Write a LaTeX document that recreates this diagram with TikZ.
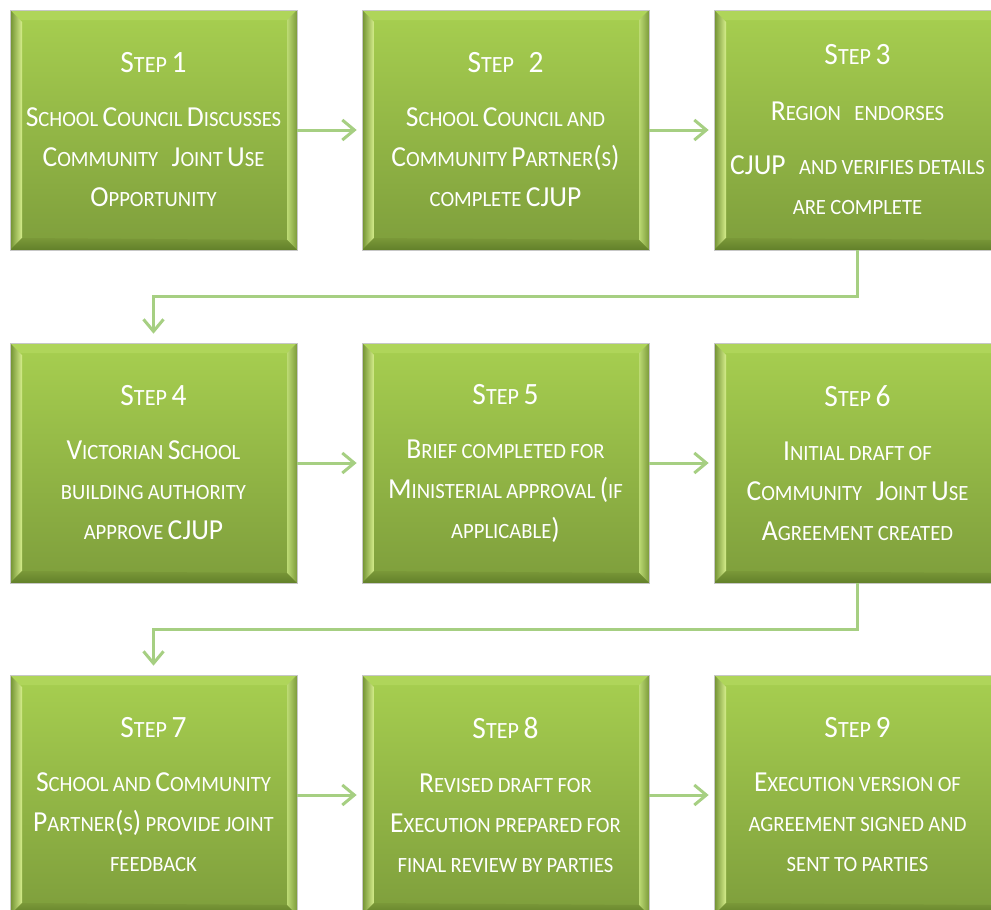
\documentclass[tikz,border=0pt]{standalone}
\usepackage{fontspec}
\setmainfont{Carlito}[FakeStretch=0.95]
\usetikzlibrary{arrows.meta,calc}
\definecolor{boxtop}{HTML}{A7CF50}
\definecolor{boxbot}{HTML}{7E9E3C}
\definecolor{bevtop}{HTML}{AFD55A}
\definecolor{bevlo}{HTML}{6F8F30}
\definecolor{bevli}{HTML}{D6EE8C}
\definecolor{bevri}{HTML}{BCDA74}
\definecolor{bevro}{HTML}{7C9B3A}
\definecolor{bevbt}{HTML}{7A9838}
\definecolor{bevbb}{HTML}{62802A}
\definecolor{connc}{HTML}{A6CF82}
\ExplSyntaxOn
\cs_new_protected:Npn \fsc_word:n #1
 {
  \tl_map_inline:nn {#1}
   {
    \int_compare:nNnTF {`##1} > {96}
     { \group_begin: \fontsize{\fp_eval:n{0.75*\use:c{f@size}}}{40}\selectfont \text_uppercase:n {##1} \group_end: }
     { ##1 }
   }
 }
\NewDocumentCommand \FSC { m }
 {
  \seq_set_split:Nnn \l_tmpa_seq { ~ } {#1}
  \bool_set_true:N \l_tmpa_bool
  \seq_map_inline:Nn \l_tmpa_seq
   {
    \bool_if:NF \l_tmpa_bool { \hspace{0.15em} }
    \bool_set_false:N \l_tmpa_bool
    \fsc_word:n {##1}
   }
 }
\ExplSyntaxOff
\newcommand\ttl[1]{{\fontsize{31}{40}\selectfont\FSC{#1}}}
\tikzset{
  stepbox/.style={rectangle, minimum width=287pt, minimum height=240pt, inner sep=0pt,
    text width=285pt, align=center, text=white, top color=boxtop, bottom color=boxbot,
    draw=black!22, line width=0.7pt, font=\fontsize{29}{40}\selectfont,
    path picture={
      \coordinate (pnw) at (path picture bounding box.north west);
      \coordinate (pne) at (path picture bounding box.north east);
      \coordinate (psw) at (path picture bounding box.south west);
      \coordinate (pse) at (path picture bounding box.south east);
      \fill[bevtop] (pnw) -- (pne) -- ($(pne)+(-10pt,-10pt)$) -- ($(pnw)+(10pt,-10pt)$) -- cycle;
      \shade[left color=bevlo, right color=bevli] (pnw) -- ($(pnw)+(12pt,-12pt)$) -- ($(psw)+(12pt,12pt)$) -- (psw) -- cycle;
      \shade[left color=bevri, right color=bevro] (pne) -- (pse) -- ($(pse)+(-10pt,10pt)$) -- ($(pne)+(-10pt,-10pt)$) -- cycle;
      \shade[top color=bevbt, bottom color=bevbb] (psw) -- (pse) -- ($(pse)+(-10pt,10pt)$) -- ($(psw)+(12pt,12pt)$) -- cycle;
    }},
  conn/.style={draw=connc, line width=3pt, -{Straight Barb[length=12pt,width=20pt]}},
}
\begin{document}
\begin{tikzpicture}[x=1pt,y=-1pt]
\useasboundingbox (0,0) rectangle (991,910);
\clip (0,0) rectangle (991,910);
\fill[white] (0,0) rectangle (991,910);
% row 1
\node[stepbox] (s1) at (153.5,130) {\ttl{Step 1}\\[14pt]\FSC{School Council Discusses}\\\FSC{Community \, Joint Use}\\\FSC{Opportunity}};
\node[stepbox] (s2) at (505.5,130) {\ttl{Step \, 2}\\[14pt]\FSC{School Council and}\\\FSC{Community Partner(s)}\\\FSC{complete CJUP}};
\node[stepbox] (s3) at (857.5,130) {\ttl{Step 3}\\[16pt]\FSC{Region \, endorses}\\[14pt]\FSC{CJUP \, and verifies details}\\\FSC{are complete}};
% row 2
\node[stepbox] (s4) at (153.5,463) {\ttl{Step 4}\\[14pt]\FSC{Victorian School}\\\FSC{building authority}\\\FSC{approve CJUP}};
\node[stepbox] (s5) at (505.5,463) {\ttl{Step 5}\\[14pt]\FSC{Brief completed for}\\\FSC{Ministerial approval (if}\\\FSC{applicable)}};
\node[stepbox] (s6) at (857.5,463) {\ttl{Step 6}\\[14pt]\FSC{Initial draft of}\\\FSC{Community \, Joint Use}\\\FSC{Agreement created}};
% row 3
\node[stepbox] (s7) at (153.5,795) {\ttl{Step 7}\\[14pt]\FSC{School and Community}\\\FSC{Partner(s) provide joint}\\\FSC{feedback}};
\node[stepbox] (s8) at (505.5,795) {\ttl{Step 8}\\[14pt]\FSC{Revised draft for}\\\FSC{Execution prepared for}\\\FSC{final review by parties}};
\node[stepbox] (s9) at (857.5,795) {\ttl{Step 9}\\[14pt]\FSC{Execution version of}\\\FSC{agreement signed and}\\\FSC{sent to parties}};
% connectors
\draw[conn, shorten >=5pt] (s1.east) -- (s2.west);
\draw[conn, shorten >=5pt] (s2.east) -- (s3.west);
\draw[conn, shorten >=5pt] (s4.east) -- (s5.west);
\draw[conn, shorten >=5pt] (s5.east) -- (s6.west);
\draw[conn, shorten >=5pt] (s7.east) -- (s8.west);
\draw[conn, shorten >=5pt] (s8.east) -- (s9.west);
\draw[conn, shorten >=9pt] (s3.south) |- ($(s3.south)!.5!(s4.north)$) -| (s4.north);
\draw[conn, shorten >=9pt] (s6.south) |- ($(s6.south)!.5!(s7.north)$) -| (s7.north);
\end{tikzpicture}
\end{document}
